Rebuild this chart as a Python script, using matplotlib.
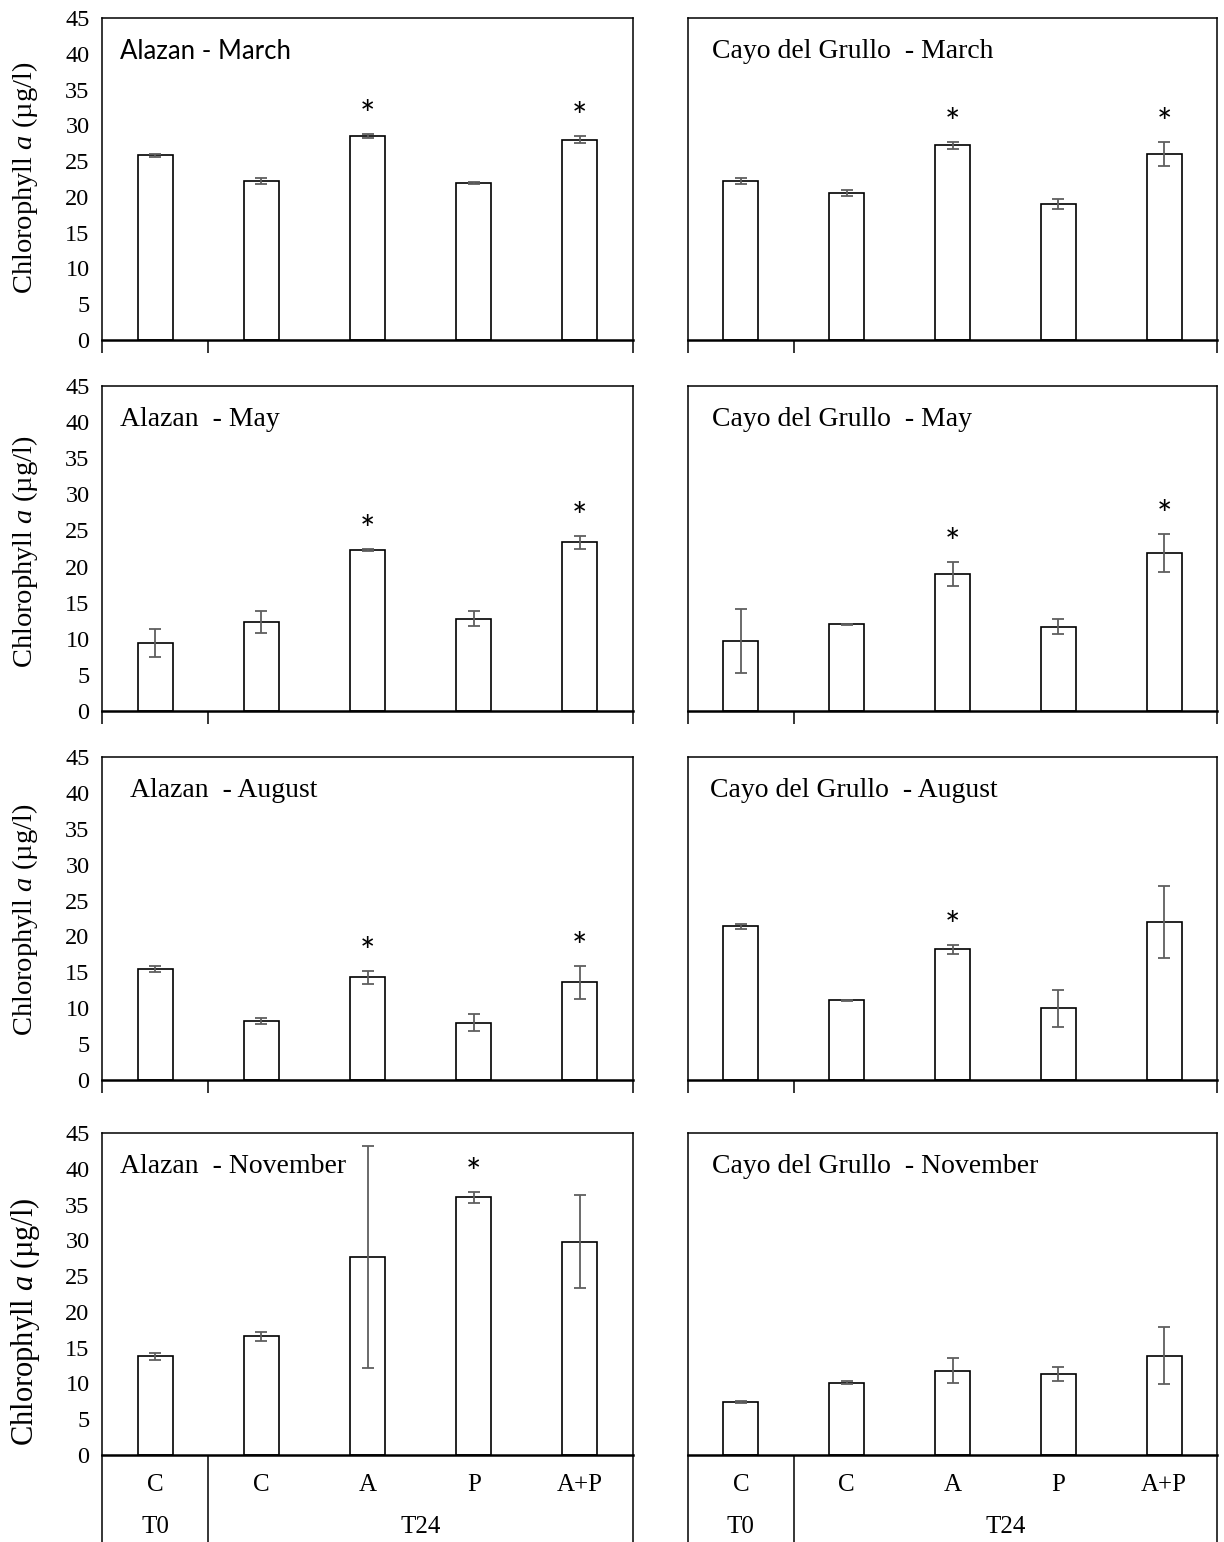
import numpy as np
import matplotlib.pyplot as plt

plt.rcParams['font.family'] = 'Liberation Serif'
plt.rcParams['mathtext.fontset'] = 'custom'
plt.rcParams['mathtext.rm'] = 'Liberation Serif'
plt.rcParams['mathtext.it'] = 'Liberation Serif:italic'

categories = ['C', 'C', 'A', 'P', 'A+P']
time_groups = ['T0', 'T24']

# Alazan
alz_mar = [25.8, 22.2, 28.5, 21.9, 28.0]
alz_mar_err = [0.2, 0.4, 0.3, 0.15, 0.5]
alz_mar_sig = [0, 0, 1, 0, 1]
alz_may = [9.4, 12.3, 22.3, 12.8, 23.4]
alz_may_err = [1.9, 1.5, 0.2, 1.0, 0.9]
alz_may_sig = [0, 0, 1, 0, 1]
alz_aug = [15.5, 8.2, 14.3, 8.0, 13.6]
alz_aug_err = [0.4, 0.4, 0.9, 1.2, 2.3]
alz_aug_sig = [0, 0, 1, 0, 1]
alz_nov = [13.8, 16.6, 27.7, 36.0, 29.8]
alz_nov_err = [0.5, 0.6, 15.5, 0.8, 6.5]
alz_nov_sig = [0, 0, 0, 1, 0]

# Cayo del Grullo
cdg_mar = [22.2, 20.5, 27.2, 19.0, 26.0]
cdg_mar_err = [0.4, 0.4, 0.5, 0.7, 1.7]
cdg_mar_sig = [0, 0, 1, 0, 1]
cdg_may = [9.7, 12.0, 19.0, 11.7, 21.9]
cdg_may_err = [4.4, 0.1, 1.7, 1.0, 2.6]
cdg_may_sig = [0, 0, 1, 0, 1]
cdg_aug = [21.4, 11.1, 18.2, 10.0, 22.0]
cdg_aug_err = [0.4, 0.1, 0.6, 2.6, 5.0]
cdg_aug_sig = [0, 0, 1, 0, 0]
cdg_nov = [7.4, 10.1, 11.8, 11.3, 13.9]
cdg_nov_err = [0.1, 0.2, 1.8, 1.0, 4.0]
cdg_nov_sig = [0, 0, 0, 0, 0]

W, H = 1224, 1542
fig = plt.figure(figsize=(W / 100, H / 100), dpi=100)

row_top = [18, 386, 757, 1133]
row_bot = [340, 711, 1080, 1455]
col_x = [(102, 633), (688, 1217)]
ylabel_y = [178, 552, 920, 1322]

serif = 'Liberation Serif'
panels = [
    [("Alazan - March", alz_mar, alz_mar_err, alz_mar_sig, 'Lato', 18.5, 0.034),
     ("Cayo del Grullo  - March", cdg_mar, cdg_mar_err, cdg_mar_sig, serif, 20, 0.045)],
    [("Alazan  - May", alz_may, alz_may_err, alz_may_sig, serif, 20, 0.034),
     ("Cayo del Grullo  - May", cdg_may, cdg_may_err, cdg_may_sig, serif, 20, 0.045)],
    [("Alazan  - August", alz_aug, alz_aug_err, alz_aug_sig, serif, 20, 0.053),
     ("Cayo del Grullo  - August", cdg_aug, cdg_aug_err, cdg_aug_sig, serif, 20, 0.041)],
    [("Alazan  - November", alz_nov, alz_nov_err, alz_nov_sig, serif, 20, 0.034),
     ("Cayo del Grullo  - November", cdg_nov, cdg_nov_err, cdg_nov_sig, serif, 20, 0.045)],
]

x = np.arange(len(categories))

for r in range(4):
    for c in range(2):
        title, vals, errs, sig, tfont, tsize, tx = panels[r][c]
        x0, x1 = col_x[c]
        ax = fig.add_axes([x0 / W, 1 - row_bot[r] / H, (x1 - x0) / W,
                           (row_bot[r] - row_top[r]) / H])
        ax.bar(x, vals, width=0.33, color='white', edgecolor='black',
               linewidth=1.2, zorder=2)
        ax.errorbar(x, vals, yerr=errs, fmt='none', ecolor='#5f5f5f',
                    elinewidth=1.3, capsize=4.5, capthick=1.3, zorder=3)
        for xi, v, e, s in zip(x, vals, errs, sig):
            if s:
                ax.text(xi, v + e + 2.4, '*', ha='center', va='center',
                        fontsize=26, family='Lato')
        ax.set_xlim(-0.5, 4.5)
        ax.set_ylim(0, 45)
        ax.text(tx, 40.3, title, transform=ax.get_yaxis_transform(),
                ha='left', va='center', fontsize=tsize, family=tfont)
        for sp in ax.spines.values():
            sp.set_linewidth(1.1)
        ax.spines['bottom'].set_linewidth(1.8)

        ax.set_xticks(x)
        ax.set_xticklabels([])
        ax.tick_params(axis='x', which='major', length=0)
        ax.set_xticks([-0.5, 0.5, 4.5], minor=True)
        tick_len = 64 if r == 3 else 9
        ax.tick_params(axis='x', which='minor', length=tick_len, width=1.1,
                       direction='out')

        if c == 0:
            ax.set_yticks(np.arange(0, 46, 5))
            ax.tick_params(axis='y', length=0, pad=9, labelsize=17.5)
            fig.text(25 / W, 1 - ylabel_y[r] / H, 'Chlorophyll $a$ (µg/l)',
                     rotation=90, ha='center', va='center',
                     fontsize=22 if r == 3 else 20.5)
        else:
            ax.set_yticks([])

        if r == 3:
            trans = ax.get_xaxis_transform()
            for xi, lab in zip(x, categories):
                ax.annotate(lab, xy=(xi, 0), xycoords=trans,
                            xytext=(0, -21.6), textcoords='offset points',
                            ha='center', va='center', fontsize=18,
                            annotation_clip=False)
            ax.annotate(time_groups[0], xy=(0, 0), xycoords=trans,
                        xytext=(0, -52), textcoords='offset points',
                        ha='center', va='center', fontsize=18,
                        annotation_clip=False)
            ax.annotate(time_groups[1], xy=(2.5, 0), xycoords=trans,
                        xytext=(0, -52), textcoords='offset points',
                        ha='center', va='center', fontsize=18,
                        annotation_clip=False)

fig.savefig('out.png', dpi=100)
